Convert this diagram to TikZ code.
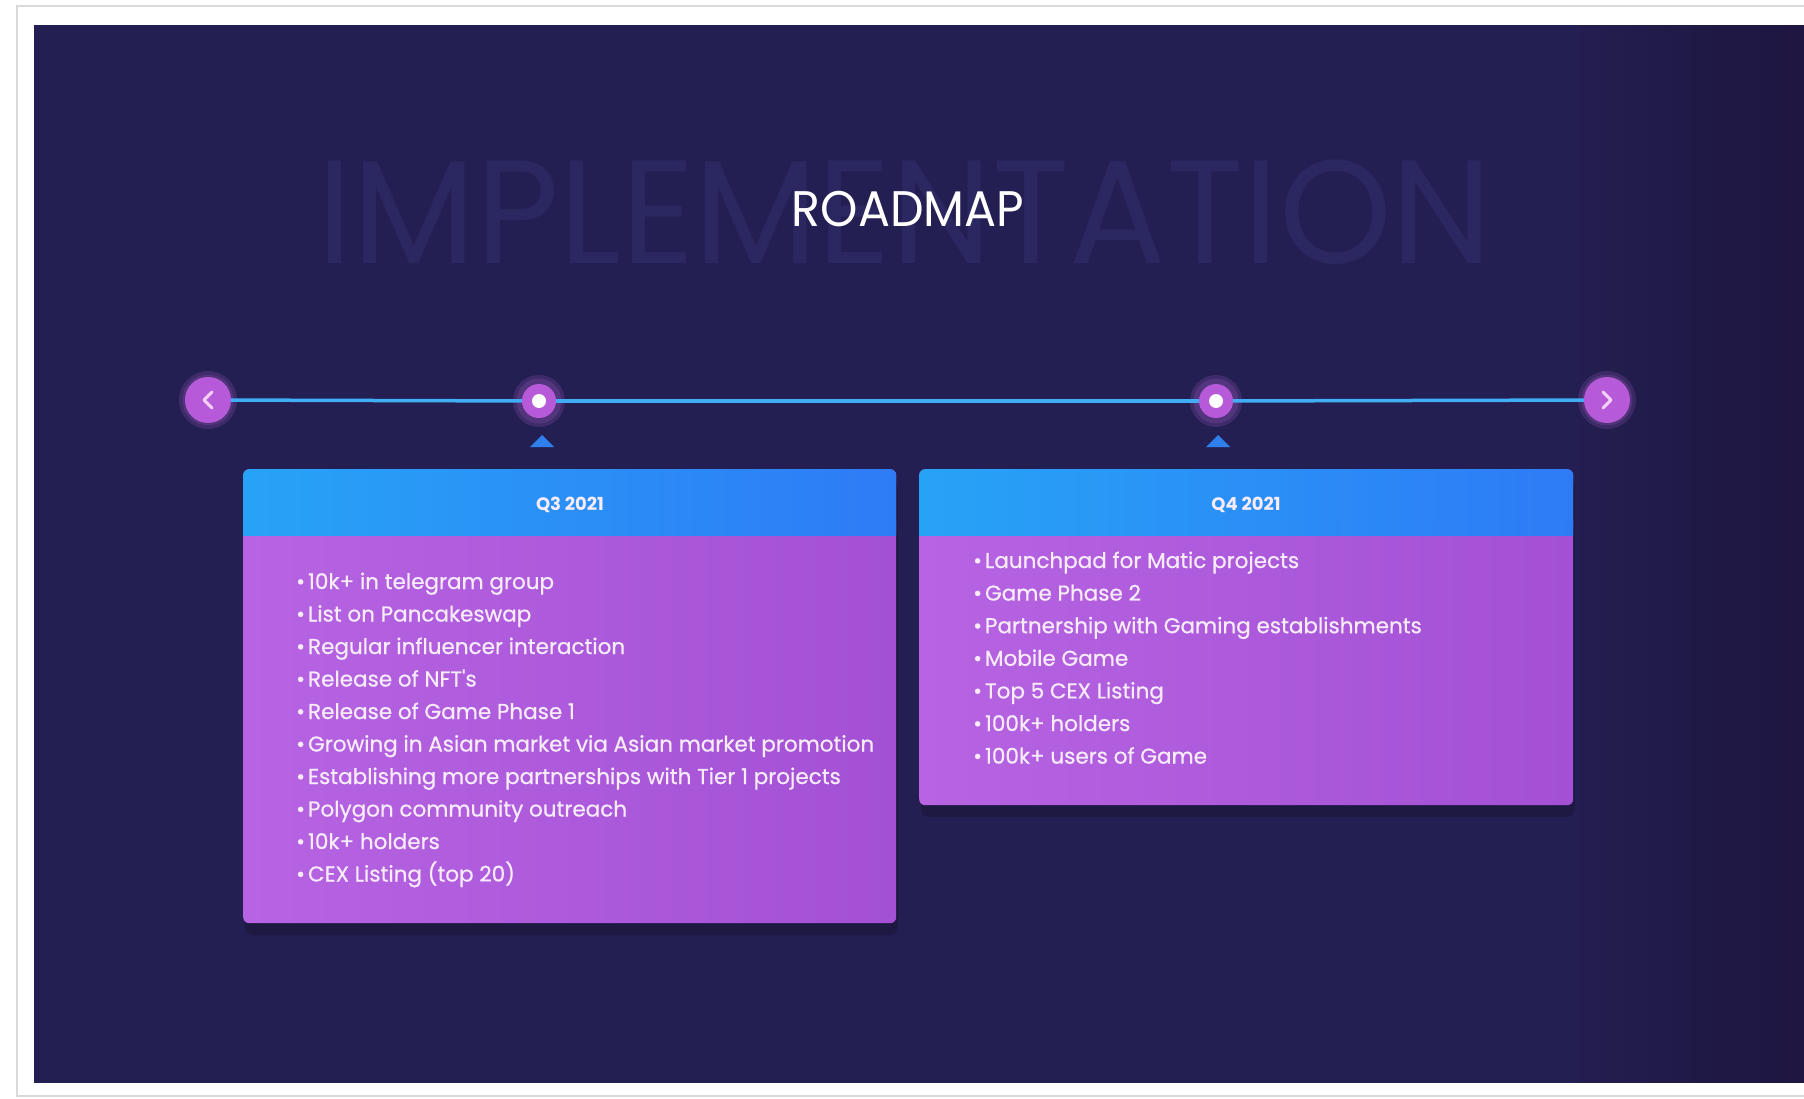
\documentclass[tikz,border=0pt]{standalone}
\usepackage{fontspec}
\setmainfont{Poppins}
\newfontfamily\itemfont{Poppins}[FakeBold=0.6]
\usetikzlibrary{calc}
\definecolor{bg}{HTML}{241F52}
\definecolor{bgR}{HTML}{1F1740}
\definecolor{wm}{HTML}{2B2861}
\definecolor{tl}{HTML}{40AEF4}
\definecolor{purp}{HTML}{B65AD9}
\definecolor{glowc}{HTML}{C66FE6}
\definecolor{tri}{HTML}{2F7FEC}
\definecolor{hdrL}{HTML}{27A3F6}
\definecolor{hdrR}{HTML}{2E7BF6}
\definecolor{bodyA}{HTML}{B664E2}
\definecolor{bodyB}{HTML}{A350D5}
\definecolor{txt}{HTML}{F8ECFB}
\definecolor{chevc}{HTML}{F4D2F7}
\tikzset{
  navbtn/.style={circle, fill=purp, minimum size=46pt, inner sep=0pt},
  mile/.style={circle, fill=purp, minimum size=34pt, inner sep=0pt},
  whitedot/.style={circle, fill=white, minimum size=14pt, inner sep=0pt},
  glow/.style={circle, fill=glowc, inner sep=0pt, opacity=0.16},
  tlline/.style={draw=tl, line width=3.5pt},
  chev/.style={draw=chevc, line width=3pt, line cap=round, line join=round},
  cardbody/.style={rounded corners=6pt, left color=bodyA, right color=bodyB, inner sep=0pt, anchor=north west},
  cardhdr/.style={rounded corners=6pt, left color=hdrL, right color=hdrR, inner sep=0pt, anchor=north west},
  hdrtext/.style={text=txt, font=\fontsize{18}{18}\selectfont\bfseries},
  item/.style={text=txt, anchor=base west, inner sep=0pt, font=\itemfont\fontsize{21.5}{21.5}\selectfont},
  pointer/.style={fill=tri},
}
\begin{document}
\begin{tikzpicture}[x=1pt,y=-1pt]
\useasboundingbox (0,0) rectangle (1804,1099);
\fill[white] (0,0) rectangle (1804,1099);
\draw[gray!30, line width=2pt] (1806,6) -- (17,6) -- (17,1096) -- (1806,1096);
\fill[bg] (34,25) rectangle (1804,1083);
% darker band on the right edge, built from soft steps
\foreach \k in {0,...,9}{
  \fill[bgR, opacity=0.12] (1580+\k*22.4,25) rectangle (1804,1083);
}

% watermark and title
\node[text=wm, font=\fontsize{147}{147}\selectfont, inner sep=0pt] (wmark) at (905,212) {\scalebox{0.975}[1]{IMPLEMENTATION}};
\node[text=white, font=\fontsize{50}{50}\selectfont, inner sep=0pt] (title) at (908,209) {\scalebox{0.95}[1]{ROADMAP}};

% glows
\foreach \p/\r in {{(208,400)}/58, {(1607,400)}/58, {(539,401)}/52, {(1216,401)}/52}{
  \node[glow, minimum size=\r pt] at \p {};
  \node[glow, minimum size=\r pt-7pt] at \p {};
}

% timeline nodes
\node[navbtn] (prev) at (208,400) {};
\node[navbtn] (next) at (1607,400) {};
\node[mile] (m1) at (539,401) {};
\node[mile] (m2) at (1216,401) {};
\node[whitedot] (d1) at (m1) {};
\node[whitedot] (d2) at (m2) {};
\draw[tlline] (prev) -- (m1);
\draw[tlline] (m1) -- (m2);
\draw[tlline] (m2) -- (next);
\draw[chev] (prev.center) ++(4,-8) -- ++(-8,8) -- ++(8,8);
\draw[chev] (next.center) ++(-4,-8) -- ++(8,8) -- ++(-8,8);

% pointers
\fill[pointer] (530,447) -- (542,435) -- (554,447) -- cycle;
\fill[pointer] (1206,447) -- (1218,435) -- (1230,447) -- cycle;

% card shadows
\fill[black, opacity=0.18, rounded corners=8pt] (245,480) rectangle (898,935);
\fill[black, opacity=0.18, rounded corners=8pt] (921,480) rectangle (1575,817);

% card 1
\node[cardbody, minimum width=653pt, minimum height=454pt] (card1) at (243,469) {};
\node[cardhdr, minimum width=653pt, minimum height=66pt] (hdr1) at (243,469) {};
\shade[left color=hdrL, right color=hdrR] (243,520) rectangle (896,535);
\node[hdrtext] (q3) at (570,505) {Q3 2021};

% card 2
\node[cardbody, minimum width=654pt, minimum height=336pt] (card2) at (919,469) {};
\node[cardhdr, minimum width=654pt, minimum height=66pt] (hdr2) at (919,469) {};
\shade[left color=hdrL, right color=hdrR] (919,520) rectangle (1573,535);
\node[hdrtext] (q4) at (1246,505) {Q4 2021};

% items card 1
\foreach \t [count=\i from 0] in {
  10k+ in telegram group,
  List on Pancakeswap,
  Regular influencer interaction,
  Release of NFT's,
  Release of Game Phase 1,
  Growing in Asian market via Asian market promotion,
  Establishing more partnerships with Tier 1 projects,
  Polygon community outreach,
  10k+ holders,
  CEX Listing (top 20)}{
  \node[item] (qa\i) at (296,589+32.5*\i) {•\hspace{3pt}\t};
}
% items card 2
\foreach \t [count=\i from 0] in {
  Launchpad for Matic projects,
  Game Phase 2,
  Partnership with Gaming establishments,
  Mobile Game,
  Top 5 CEX Listing,
  100k+ holders,
  100k+ users of Game}{
  \node[item] (qb\i) at (973,568+32.6*\i) {•\hspace{3pt}\t};
}
\end{tikzpicture}
\end{document}
